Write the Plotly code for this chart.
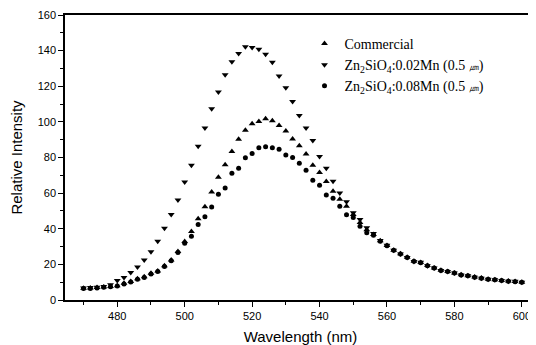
import plotly.graph_objects as go

wavelength = list(range(470, 602, 2))

commercial = [6.6, 6.7, 7.0, 7.3, 7.6, 8.0, 9.4, 10.4, 11.9, 13.0, 15.0, 16.3, 19.2, 22.5, 27.2,
              32.8, 38.4, 45.6, 52.4, 60.6, 68.9, 75.9, 83.4, 90.2, 95.3, 98.9, 100.2, 101.7,
              100.6, 97.9, 94.9, 90.4, 86.6, 81.9, 75.7, 71.6, 66.5, 61.0, 56.5, 52.7, 48.0,
              43.5, 39.5, 36.8, 33.2, 30.6, 28.0, 25.9, 24.0, 21.8, 21.0, 19.3, 18.0, 16.7,
              16.0, 15.2, 14.2, 13.6, 12.9, 12.3, 11.7, 11.3, 10.9, 10.6, 10.4, 10.0]

mn002 = [6.8, 7.0, 7.2, 7.6, 8.5, 10.9, 12.6, 15.4, 18.5, 22.4, 27.1, 33.0, 40.3, 48.0, 56.1,
         66.3, 75.7, 86.3, 96.6, 107.3, 116.8, 126.4, 133.7, 138.4, 142.2, 141.8, 140.8, 137.9,
         133.5, 125.8, 119.2, 111.5, 103.6, 96.6, 89.5, 80.6, 74.0, 66.7, 60.1, 55.2, 49.0,
         45.2, 40.5, 37.3, 33.4, 30.8, 28.0, 25.8, 23.9, 21.6, 21.2, 19.2, 17.9, 16.6,
         16.0, 15.1, 14.1, 13.6, 12.8, 12.2, 11.7, 11.3, 10.9, 10.5, 10.5, 10.0]

mn008 = [6.4, 6.5, 6.8, 7.1, 7.4, 7.8, 9.0, 10.1, 11.6, 12.7, 14.6, 16.0, 18.8, 22.0, 26.7,
         31.8, 35.8, 42.4, 46.7, 52.2, 59.3, 62.9, 71.2, 74.0, 79.8, 82.3, 85.5, 86.1,
         85.5, 84.6, 81.4, 80.0, 76.8, 72.9, 67.2, 64.4, 58.9, 57.1, 52.7, 47.8, 46.3,
         41.4, 37.7, 36.3, 33.0, 30.5, 27.9, 25.8, 23.9, 21.7, 20.9, 19.2, 17.9, 16.6,
         16.0, 15.1, 14.1, 13.6, 12.8, 12.2, 11.7, 11.3, 10.9, 10.5, 10.3, 9.9]

x_ticks = [480, 500, 520, 540, 560, 580, 600]
y_ticks = [0, 20, 40, 60, 80, 100, 120, 140, 160]

names = [
    "Commercial",
    "Zn<sub>2</sub>SiO<sub>4</sub>:0.02Mn (0.5 <span style='font-size:10px'>㎛</span>)",
    "Zn<sub>2</sub>SiO<sub>4</sub>:0.08Mn (0.5 <span style='font-size:10px'>㎛</span>)",
]
symbols = ["triangle-up", "triangle-down", "circle"]
sizes = [6, 6, 5]

fig = go.Figure()
for vals, name, sym, sz in zip([commercial, mn002, mn008], names, symbols, sizes):
    fig.add_trace(go.Scatter(
        x=wavelength, y=vals, mode="markers", name=name,
        marker=dict(symbol=sym, size=sz, color="black", line=dict(width=0)),
    ))

sans = "Arial, Liberation Sans, sans-serif"
# the page body has an 8px default margin, so the figure is 8px smaller
fig.update_layout(
    width=528, height=337,
    margin=dict(l=57, r=0, t=7, b=45, autoexpand=False),
    paper_bgcolor="white", plot_bgcolor="white",
    font=dict(family=sans, color="black", size=11),
    showlegend=True,
    legend=dict(
        x=0.5085, y=0.955, xanchor="left", yanchor="top",
        font=dict(family="Liberation Serif, Times New Roman, serif", size=14, color="black"),
        bgcolor="rgba(0,0,0,0)", tracegroupgap=0, itemwidth=30,
    ),
)

fig.update_xaxes(
    range=[464.5, 604.2], tickmode="array", tickvals=x_ticks,
    ticks="outside", ticklen=5, tickwidth=1.3, tickcolor="black",
    minor=dict(tickvals=[470, 490, 510, 530, 550, 570, 590], ticks="outside", ticklen=3,
               tickcolor="black"),
    showline=True, linecolor="black", linewidth=1.5, mirror=True,
    showgrid=False, zeroline=False, automargin=False,
    tickfont=dict(size=11, family=sans),
    title=dict(text="Wavelength (nm)", font=dict(size=15), standoff=12),
)
fig.update_yaxes(
    range=[0, 160], tickmode="array", tickvals=y_ticks,
    ticks="outside", ticklen=5, tickwidth=1.3, tickcolor="black",
    minor=dict(tickvals=[10, 30, 50, 70, 90, 110, 130, 150], ticks="outside", ticklen=3,
               tickcolor="black"),
    showline=True, linecolor="black", linewidth=1.5, mirror=False,
    showgrid=False, zeroline=False, automargin=False,
    tickfont=dict(size=11, family=sans),
    title=dict(text="Relative Intensity", font=dict(size=15), standoff=22),
)

fig.write_html("out.html")
